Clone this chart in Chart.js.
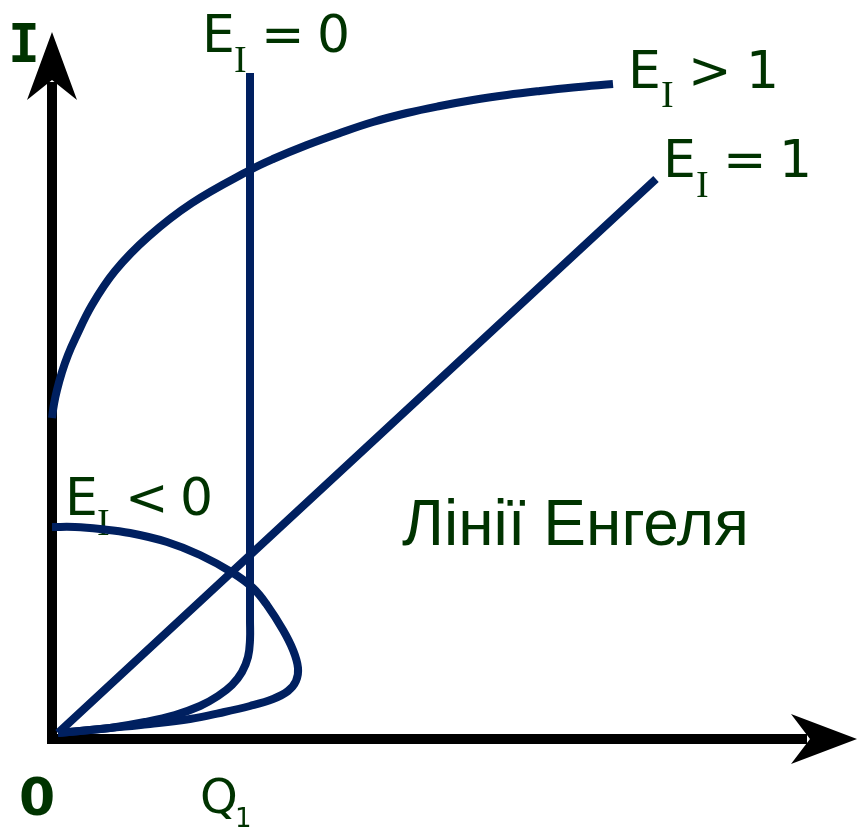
<!DOCTYPE html>
<html>
<head>
<meta charset="utf-8">
<script src="https://cdn.jsdelivr.net/npm/chart.js@4/dist/chart.umd.min.js"></script>
<style>
html,body{margin:0;padding:0;background:#fff;}
#wrap{width:858px;height:829px;position:relative;}
</style>
</head>
<body>
<div id="wrap"><canvas id="c"></canvas></div>
<script>
// ---- data (Q = quantity, I = income) ----
const Q_MAX = 80.5, I_MAX = 70.7;

const Q_EI0 = [19.8,19.8,19.8,19.8,19.8,19.6,19.0,18.0,16.6,14.8,12.3,9.3,5.8,2.8,0.6];
const I_EI0 = [66.6,38.9,13.9,11.9,9.9,8.2,6.7,5.4,4.3,3.3,2.4,1.7,1.1,0.8,0.6];

const Q_EIneg = [0.0,2.3,4.8,7.8,11.5,14.8,18.1,20.1,21.5,23.1,24.1,24.6,24.4,23.6,22.1,19.8,16.8,13.8,9.8,5.8,2.8,0.6];
const I_EIneg = [21.2,21.2,21.0,20.6,19.7,18.4,16.6,15.1,13.4,10.9,8.9,7.1,5.8,4.8,4.0,3.3,2.6,2.0,1.5,1.1,0.8,0.6];

const Q_EI1 = [0.6,60.4];
const I_EI1 = [0.6,56.0];

const Q_EIgt1 = [0.0,0.2,0.5,1.0,1.6,2.3,4.0,6.3,9.6,14.0,19.8,22.1,25.5,28.8,32.1,35.5,38.8,42.1,45.5,48.8,52.1,56.1];
const I_EIgt1 = [32.1,33.5,34.9,36.7,38.4,40.0,43.4,46.8,50.2,53.6,56.9,58.0,59.4,60.6,61.7,62.6,63.3,63.9,64.4,64.8,65.15,65.5];

const seriesNames = ['E_I = 0','E_I < 0','E_I = 1','E_I > 1'];

// ---- styles ----
const LINE = '#002060';
const TXT = '#003300';

function pts(qs, is){ return qs.map((q,k)=>({x:q, y:is[k]})); }

// text pieces: [text, x, y(baseline), font]
const F = '52px "DejaVu Sans"';
const FS = '38px "Liberation Serif"';
const textPieces = [
  ['I', 8, 62, 'bold 53px "DejaVu Sans Mono"'],
  ['0', 19, 815, 'bold 52px "DejaVu Sans"'],
  ['Q', 200, 813, '48px "DejaVu Sans"'],
  ['1', 235, 827, '26px "DejaVu Sans"'],
  // E_I = 0
  ['E', 202, 52, F], ['I', 234, 72, FS], ['=', 261, 52, F], ['0', 317, 52, F],
  // E_I > 1
  ['E', 628, 88, F], ['I', 661, 107, FS], ['>', 688, 88, F], ['1', 746, 88, F],
  // E_I = 1
  ['E', 663, 177, F], ['I', 696, 197, FS], ['=', 723, 177, F], ['1', 779, 177, F],
  // E_I < 0
  ['E', 65, 515, F], ['I', 97, 535, FS], ['<', 125, 515, F], ['0', 180, 515, F],
  ['Лінії Енгеля', 402, 545, '64px "Liberation Sans"']
];

const axesPlugin = {
  id: 'axesArrows',
  beforeDatasetsDraw(chart){
    const {ctx, scales:{x, y}} = chart;
    const x0 = x.getPixelForValue(0), y0 = y.getPixelForValue(0);
    const xEnd = x.getPixelForValue(Q_MAX), yEnd = y.getPixelForValue(I_MAX);
    ctx.save();
    ctx.strokeStyle = '#000'; ctx.fillStyle = '#000'; ctx.lineWidth = 10; ctx.lineCap = 'butt';
    // y axis
    ctx.beginPath(); ctx.moveTo(x0, y0 + 5); ctx.lineTo(x0, yEnd + 50); ctx.stroke();
    // x axis
    ctx.beginPath(); ctx.moveTo(x0 - 5, y0); ctx.lineTo(xEnd - 50, y0); ctx.stroke();
    // arrow heads
    ctx.beginPath();
    ctx.moveTo(x0, yEnd); ctx.lineTo(x0 + 25, yEnd + 68); ctx.lineTo(x0, yEnd + 48); ctx.lineTo(x0 - 25, yEnd + 68); ctx.closePath(); ctx.fill();
    ctx.beginPath();
    ctx.moveTo(xEnd, y0); ctx.lineTo(xEnd - 66, y0 - 25); ctx.lineTo(xEnd - 47, y0); ctx.lineTo(xEnd - 66, y0 + 25); ctx.closePath(); ctx.fill();
    // text
    ctx.fillStyle = TXT; ctx.textAlign = 'left'; ctx.textBaseline = 'alphabetic';
    textPieces.forEach(([s, tx, ty, f]) => { ctx.font = f; ctx.fillText(s, tx, ty); });
    ctx.restore();
  }
};

function ds(label, qs, is){
  return {
    label, data: pts(qs, is), showLine: true, fill: false,
    borderColor: LINE, backgroundColor: LINE, borderWidth: 8,
    pointRadius: 0, pointHoverRadius: 0, tension: 0.4,
    borderCapStyle: 'butt', borderJoinStyle: 'round', clip: false
  };
}

new Chart(document.getElementById('c'), {
  type: 'scatter',
  data: {
    datasets: [
      ds(seriesNames[0], Q_EI0, I_EI0),
      ds(seriesNames[1], Q_EIneg, I_EIneg),
      ds(seriesNames[2], Q_EI1, I_EI1),
      ds(seriesNames[3], Q_EIgt1, I_EIgt1)
    ]
  },
  options: {
    responsive: true, maintainAspectRatio: false, animation: false,
    layout: { padding: { left: 52, right: 1, top: 32, bottom: 90 } },
    scales: {
      x: { type: 'linear', min: 0, max: Q_MAX, display: false },
      y: { type: 'linear', min: 0, max: I_MAX, display: false }
    },
    plugins: { legend: { display: false }, tooltip: { enabled: false } },
    events: []
  },
  plugins: [axesPlugin]
});
</script>
</body>
</html>
